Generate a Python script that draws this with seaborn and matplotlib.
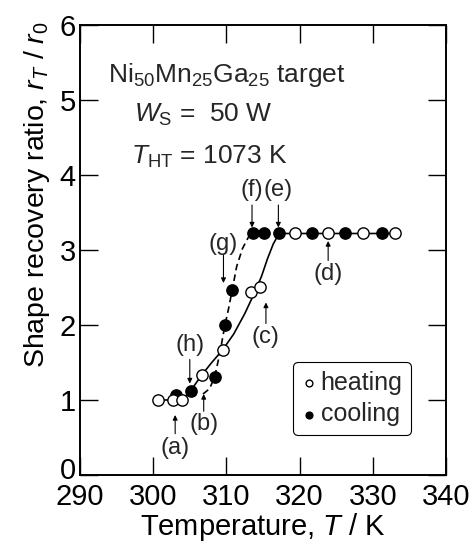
import matplotlib
matplotlib.use("Agg")
import matplotlib.pyplot as plt
import matplotlib.transforms as mtransforms
import seaborn as sns
import pandas as pd

# Measured shape recovery ratio
heat_T = [300.6, 302.7, 303.9, 306.6, 309.5, 313.4, 314.6, 319.4, 323.9, 328.7, 333.0]
heat_r = [1.00, 1.00, 1.00, 1.33, 1.67, 2.44, 2.51, 3.22, 3.22, 3.22, 3.22]
cool_T = [303.1, 305.1, 308.4, 309.8, 310.8, 313.6, 315.1, 317.2, 321.7, 326.2, 331.3]
cool_r = [1.07, 1.12, 1.31, 2.00, 2.47, 3.22, 3.22, 3.22, 3.22, 3.22, 3.22]

# Hand-drawn guide curves
heat_fit_T = [300.6, 303.9, 305.1, 306.6, 308.0, 309.5, 311.0, 312.5, 313.8, 314.8, 315.6, 316.4, 317.2, 333.0]
heat_fit_r = [1.00, 1.00, 1.12, 1.33, 1.50, 1.67, 1.88, 2.15, 2.42, 2.65, 2.88, 3.08, 3.22, 3.22]
cool_fit_T = [306.8, 307.7, 308.4, 309.1, 309.8, 310.3, 310.8, 311.4, 312.2, 313.0, 313.6]
cool_fit_r = [1.08, 1.15, 1.31, 1.62, 2.00, 2.22, 2.47, 2.78, 3.02, 3.17, 3.22]

# Labelled states: (label, T, label r, arrow tail r, arrow tip r)
marks = [
    ("(a)", 303.0, 0.36, 0.55, 0.80),
    ("(b)", 306.9, 0.68, 0.85, 1.08),
    ("(c)", 315.4, 1.84, 2.02, 2.30),
    ("(d)", 323.9, 2.68, 2.86, 3.12),
    ("(e)", 317.1, 3.80, 3.60, 3.30),
    ("(f)", 313.5, 3.80, 3.60, 3.30),
    ("(g)", 309.6, 3.08, 2.93, 2.56),
    ("(h)", 305.0, 1.74, 1.54, 1.22),
]

x_ticks = [290, 300, 310, 320, 330, 340]
y_ticks = [0, 1, 2, 3, 4, 5, 6]

sns.set_theme(style="ticks")
plt.rcParams["font.family"] = ["Liberation Sans", "DejaVu Sans"]
plt.rcParams["mathtext.fontset"] = "custom"
plt.rcParams["mathtext.rm"] = "Liberation Sans"
plt.rcParams["mathtext.it"] = "Liberation Sans:italic"
plt.rcParams["mathtext.bf"] = "Liberation Sans:bold"

fig = plt.figure(figsize=(4.76, 5.49), dpi=100)
ax = fig.add_axes([80 / 476, 74 / 549, 366 / 476, 450 / 549])

heat = pd.DataFrame({"T": heat_T, "r": heat_r})
cool = pd.DataFrame({"T": cool_T, "r": cool_r})
hfit = pd.DataFrame({"T": heat_fit_T, "r": heat_fit_r})
cfit = pd.DataFrame({"T": cool_fit_T, "r": cool_fit_r})

sns.lineplot(data=hfit, x="T", y="r", sort=False, color="black", lw=1.2, ax=ax, zorder=2)
sns.lineplot(data=cfit, x="T", y="r", sort=False, color="black", lw=1.2, ax=ax, zorder=2,
             dashes=False, linestyle=(0, (4, 2.5)))

sns.scatterplot(data=heat, x="T", y="r", ax=ax, marker="o", s=66, facecolor="white",
                edgecolor="black", linewidth=1.0, zorder=4, label="heating")
sns.scatterplot(data=cool, x="T", y="r", ax=ax, marker="o", s=66, facecolor="black",
                edgecolor="black", linewidth=1.0, zorder=3, label="cooling")

for lab, t, ry, r0, r1 in marks:
    ax.text(t, ry, lab, ha="center", va="center", fontsize=17)
    ax.annotate("", xy=(t, r1), xytext=(t, r0),
                arrowprops=dict(arrowstyle="-|>", lw=0.8, color="black", mutation_scale=7,
                                shrinkA=0, shrinkB=0))

ax.text(293.8, 5.33, r"Ni$_{50}$Mn$_{25}$Ga$_{25}$ target", fontsize=19, va="center", ha="left")
ax.text(297.4, 4.80, r"$W_{\mathrm{S}}$ =  50 W", fontsize=19, va="center", ha="left")
ax.text(297.0, 4.24, r"$T_{\mathrm{HT}}$ = 1073 K", fontsize=19, va="center", ha="left")

ax.set_xlim(290, 340)
ax.set_ylim(0, 6)
ax.set_xticks(x_ticks)
ax.set_yticks(y_ticks)
ax.tick_params(direction="in", length=13, width=1.0, top=True, right=True,
               labelsize=21, color="black", labelcolor="black")
ax.tick_params(axis="x", pad=6)
ax.tick_params(axis="y", pad=3)
for s in ax.spines.values():
    s.set_visible(True)
    s.set_color("black")
    s.set_linewidth(1.4)

# lift the "0" on the y axis a little so it sits just above the 290 label
zero_lbl = ax.yaxis.get_major_ticks()[0].label1
zero_lbl.set_transform(zero_lbl.get_transform()
                       + mtransforms.ScaledTranslation(0, 5 / 72, fig.dpi_scale_trans))

ax.set_xlabel(r"Temperature, $T$ / K", fontsize=21, color="black", va="baseline")
ax.set_ylabel(r"Shape recovery ratio, $r_T$ / $r_0$", fontsize=20.5, color="black", va="center")
ax.xaxis.set_label_coords(0.5, -0.133)
ax.yaxis.set_label_coords(-0.118, 0.624)

leg = ax.legend(loc="lower right", bbox_to_anchor=(0.905, 0.089), fontsize=18, frameon=True,
                fancybox=True, handletextpad=0.15, borderpad=0.35, labelspacing=0.3,
                handlelength=0.6, markerscale=0.6, borderaxespad=0)
leg.get_frame().set_edgecolor("black")
leg.get_frame().set_linewidth(0.8)
leg.get_frame().set_alpha(1)

fig.savefig("out.png", dpi=100)
